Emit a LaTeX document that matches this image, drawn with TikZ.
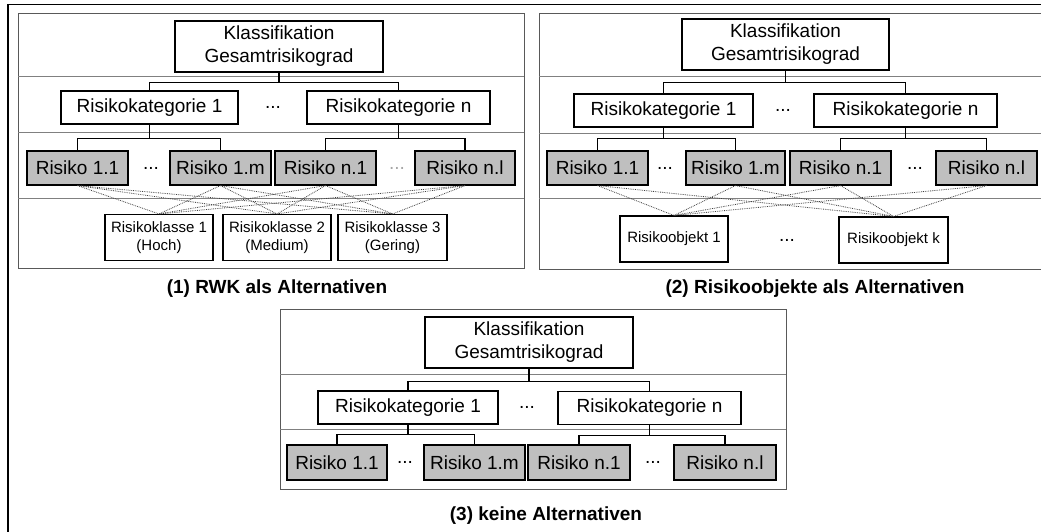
\documentclass[tikz,border=0pt]{standalone}
\usepackage{fontspec}
\setmainfont{Liberation Sans}
\begin{document}
\begin{tikzpicture}[x=1pt,y=-1pt,
 box/.style={draw, line width=1.1pt, inner sep=0pt, align=center, font=\fontsize{19}{23}\selectfont},
 rbox/.style={box, fill=black!25, minimum width=101pt, minimum height=34pt},
 cbox/.style={box, minimum height=33pt},
 kbox/.style={box, minimum width=208pt, minimum height=51pt},
 sbox/.style={box, font=\fontsize{15}{18}\selectfont, minimum width=108pt, minimum height=46pt},
 dots/.style={font=\fontsize{19}{23}\selectfont, inner sep=0pt},
 captext/.style={font=\bfseries\fontsize{19}{23}\selectfont, inner sep=0pt},
 tree/.style={line width=1.1pt},
 alt/.style={densely dotted, line width=0.8pt, black!75},
 sep/.style={line width=0.8pt, black!50},
 panel/.style={line width=1pt, black!65}]

\useasboundingbox (0,0) rectangle (1041,531);
\clip (0,0) rectangle (1041,531);

% outer frame (only top and left visible)
\draw[line width=1.5pt] (8,545) -- (8,4.5) -- (1060,4.5);

% ---------------- Panel 1 ----------------
\draw[panel] (18,13) rectangle (524,268);
\foreach \yy in {76,132,198} \draw[sep] (18,\yy) -- (524,\yy);

\node[kbox] (k1) at (279,46.5) {Klassifikation\\Gesamtrisikograd};
\node[cbox, minimum width=177pt] (c11) at (149.5,107.5) {Risikokategorie 1};
\node[dots] (d11) at (273,107) {...};
\node[cbox, minimum width=183pt] (c1n) at (398.5,107.5) {Risikokategorie n};
\node[rbox] (r11) at (77.5,168) {Risiko 1.1};
\node[dots] (d12) at (151,168) {...};
\node[rbox] (r1m) at (220.5,168) {Risiko 1.m};
\node[rbox] (r1n1) at (325.5,168) {Risiko n.1};
\node[dots, black!35] (d13) at (397,168) {...};
\node[rbox, minimum width=100pt] (r1nl) at (465,168) {Risiko n.l};
\node[sbox] (kl1) at (159,237.5) {Risikoklasse 1\\(Hoch)};
\node[sbox] (kl2) at (277,237.5) {Risikoklasse 2\\(Medium)};
\node[sbox, minimum width=109pt] (kl3) at (392.5,237.5) {Risikoklasse 3\\(Gering)};

\draw[tree] (k1.south) -- ++(0,10) -| (c11.north);
\draw[tree] (k1.south) -- ++(0,10) -| (c1n.north);
\draw[tree] (c11.south) -- ++(0,14) -| (r11.north);
\draw[tree] (c11.south) -- ++(0,14) -| (r1m.north);
\draw[tree] (c1n.south) -- ++(0,14) -| (r1n1.north);
\draw[tree] (c1n.south) -- ++(0,14) -| (r1nl.north);
\foreach \r in {r11,r1m,r1n1,r1nl}
  \foreach \k in {kl1,kl2,kl3}
    \draw[alt] (\r.south) -- (\k.north);

\node[captext] (cap1) at (277,289) {(1) RWK als Alternativen};

% ---------------- Panel 2 ----------------
\draw[panel] (1060,13) -- (539,13) -- (539,269) -- (1060,269);
\foreach \yy in {76,133,198} \draw[sep] (539,\yy) -- (1060,\yy);

\node[kbox, minimum width=207pt] (k2) at (785.5,44.5) {Klassifikation\\Gesamtrisikograd};
\node[cbox, minimum width=179pt] (c21) at (663.5,110.5) {Risikokategorie 1};
\node[dots] (d21) at (783,110) {...};
\node[cbox, minimum width=183pt] (c2n) at (905.5,110.5) {Risikokategorie n};
\node[rbox] (r21) at (597.5,168) {Risiko 1.1};
\node[dots] (d22) at (665,168) {...};
\node[rbox, minimum width=99pt] (r2m) at (735.5,168) {Risiko 1.m};
\node[rbox] (r2n1) at (840.5,168) {Risiko n.1};
\node[dots] (d23) at (915,168) {...};
\node[rbox] (r2nl) at (986.5,168) {Risiko n.l};
\node[sbox] (o1) at (674,239) {Risikoobjekt 1};
\node[dots] (d24) at (787,240) {...};
\node[sbox, minimum width=109pt] (ok) at (893.5,240) {Risikoobjekt k};

\draw[tree] (k2.south) -- ++(0,12) -| (c21.north);
\draw[tree] (k2.south) -- ++(0,12) -| (c2n.north);
\draw[tree] (c21.south) -- ++(0,11) -| (r21.north);
\draw[tree] (c21.south) -- ++(0,11) -| (r2m.north);
\draw[tree] (c2n.south) -- ++(0,11) -| (r2n1.north);
\draw[tree] (c2n.south) -- ++(0,11) -| (r2nl.north);
\foreach \r in {r21,r2m,r2n1,r2nl}
  \foreach \k in {o1,ok}
    \draw[alt] (\r.south) -- (\k.north);

\node[captext] (cap2) at (815,289) {(2) Risikoobjekte als Alternativen};

% ---------------- Panel 3 ----------------
\draw[panel] (280,309) rectangle (786,489);
\foreach \yy in {374,429} \draw[sep] (280,\yy) -- (786,\yy);

\node[kbox] (k3) at (529,342.5) {Klassifikation\\Gesamtrisikograd};
\node[cbox, minimum width=180pt] (c31) at (408,407.5) {Risikokategorie 1};
\node[dots] (d31) at (527,407) {...};
\node[cbox, minimum width=183pt] (c3n) at (649.5,408) {Risikokategorie n};
\node[rbox, minimum width=100pt, minimum height=35pt] (r31) at (337,462.5) {Risiko 1.1};
\node[dots] (d32) at (405,462) {...};
\node[rbox, minimum height=35pt] (r3m) at (474.5,462.5) {Risiko 1.m};
\node[rbox, minimum width=102pt, minimum height=35pt] (r3n1) at (579,462.5) {Risiko n.1};
\node[dots] (d33) at (653,462) {...};
\node[rbox, minimum width=102pt, minimum height=35pt] (r3nl) at (725,462.5) {Risiko n.l};

\draw[tree] (k3.south) -- ++(0,13) -| (c31.north);
\draw[tree] (k3.south) -- ++(0,13) -| (c3n.north);
\draw[tree] (c31.south) -- ++(0,10) -| (r31.north);
\draw[tree] (c31.south) -- ++(0,10) -| (r3m.north);
\draw[tree] (c3n.south) -- ++(0,10) -| (r3n1.north);
\draw[tree] (c3n.south) -- ++(0,10) -| (r3nl.north);

\node[captext] (cap3) at (546,516) {(3) keine Alternativen};
\end{tikzpicture}
\end{document}
